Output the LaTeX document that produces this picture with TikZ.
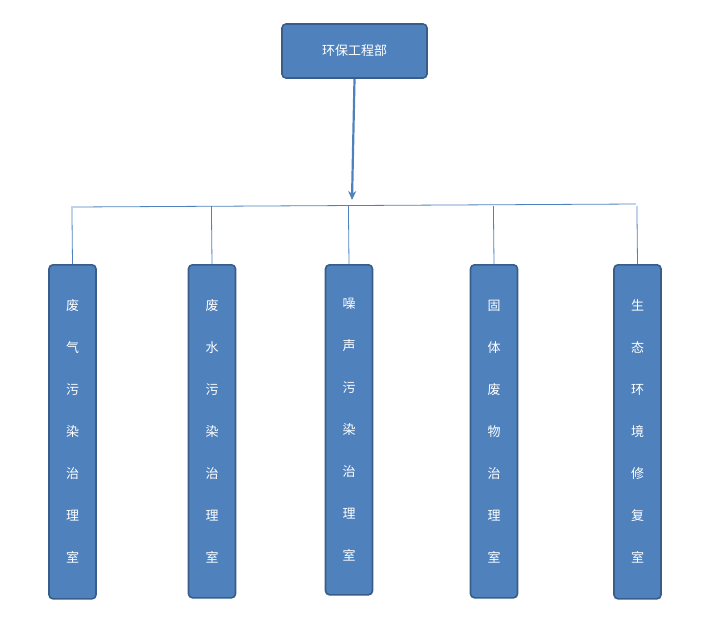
\documentclass[tikz,border=0pt]{standalone}
\usepackage{fontspec}
\setmainfont{Noto Sans CJK SC}
\usetikzlibrary{arrows.meta}
\definecolor{boxfill}{HTML}{4F81BD}
\definecolor{boxedge}{HTML}{385D8A}
\begin{document}
\begin{tikzpicture}[x=1pt,y=-1pt,
  box/.style={draw=boxedge,line width=1.6pt,fill=boxfill,rounded corners=4pt,text=white,font=\fontsize{13}{15}\selectfont},
  link/.style={draw=boxfill,line width=0.8pt}]
\useasboundingbox (0,0) rectangle (708,619);
\node[box,minimum width=145pt,minimum height=54pt] (top) at (354.5,51) {环保工程部};
\coordinate (hl) at (73,207);
\coordinate (hr) at (636,204);
\draw[link] (hl) -- (hr);
\draw[boxfill,line width=2.2pt,-{Stealth[length=9pt,width=8pt]}] (top.south) -- (352,200);
\foreach \n/\x/\yb/\t in {a/72.5/598/{废\\气\\污\\染\\治\\理\\室},b/212/597/{废\\水\\污\\染\\治\\理\\室},c/349/594/{噪\\声\\污\\染\\治\\理\\室},d/494/597/{固\\体\\废\\物\\治\\理\\室},e/637.5/598/{生\\态\\环\\境\\修\\复\\室}}{
  \node[box,minimum width=47pt,minimum height=\yb-264,anchor=north,align=center,font=\fontsize{13}{42}\selectfont] (\n) at (\x,264) {\t};
  \coordinate (t\n) at (\x-0.6,206);
  \draw[link] (t\n) -- (\n.north);
}
\end{tikzpicture}
\end{document}
